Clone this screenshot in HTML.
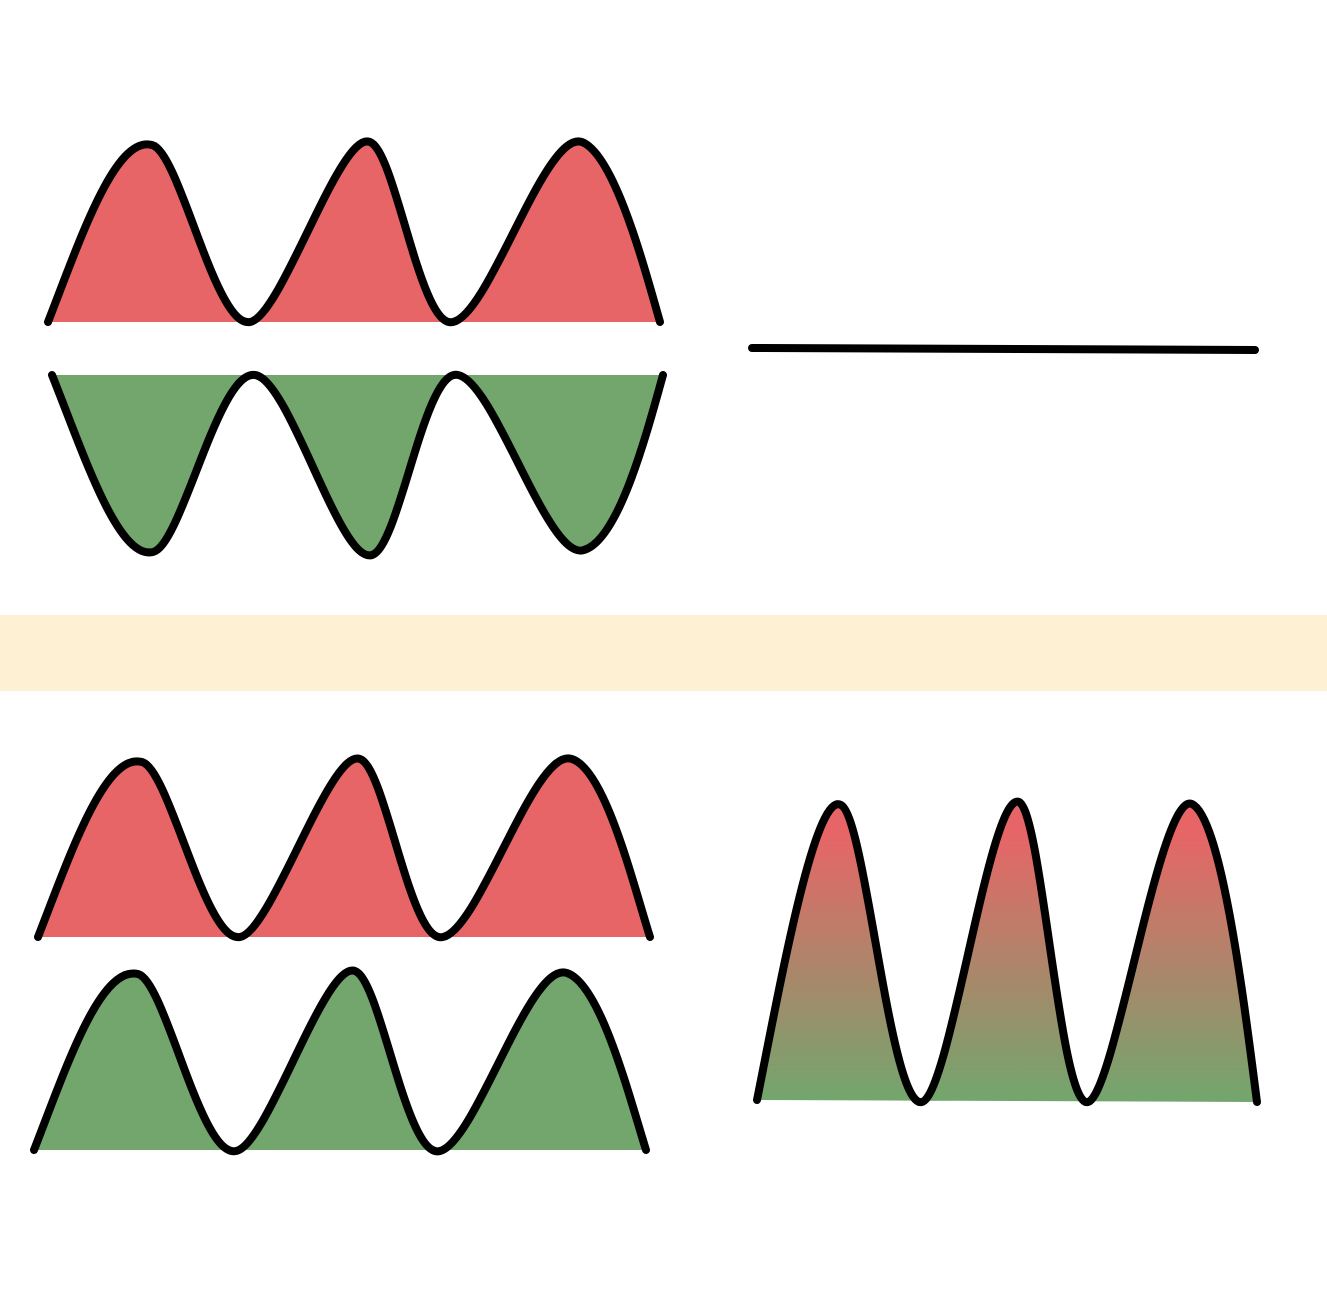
<!DOCTYPE html>
<html><head><meta charset="utf-8"><style>html,body{margin:0;padding:0;background:#fff}svg{display:block}</style></head>
<body>
<svg width="1327" height="1315" viewBox="0 0 1327 1315" xmlns="http://www.w3.org/2000/svg">
<defs>
<linearGradient id="g" x1="0" y1="0" x2="0" y2="1" gradientUnits="objectBoundingBox">
<stop offset="0.1" stop-color="#E86567"/>
<stop offset="1" stop-color="#72A66D"/>
</linearGradient>
</defs>
<rect x="0" y="615" width="1327" height="76" fill="#FEF1D3"/>
<g stroke="#000" stroke-width="8" stroke-linecap="round" fill="none">
<!-- top red -->
<path d="M48,322 C80,240 115,135 152,145 C180,152 215,328 250,322 C282,316 340,130 370,142 C396,152 420,330 453,322 C490,314 545,130 582,142 C615,155 645,270 660,322 Z" fill="#E86567" stroke="none"/>
<path d="M48,322 C80,240 115,135 152,145 C180,152 215,328 250,322 C282,316 340,130 370,142 C396,152 420,330 453,322 C490,314 545,130 582,142 C615,155 645,270 660,322"/>
<!-- top green -->
<path d="M52,375 C84,455 118,560 153,552 C182,545 218,370 255,375 C290,380 340,565 372,555 C400,546 424,368 458,375 C495,382 548,562 584,550 C618,540 645,440 663,375 Z" fill="#72A66D" stroke="none"/>
<path d="M52,375 C84,455 118,560 153,552 C182,545 218,370 255,375 C290,380 340,565 372,555 C400,546 424,368 458,375 C495,382 548,562 584,550 C618,540 645,440 663,375"/>
<line x1="752" y1="348" x2="1255" y2="350"/>
<!-- bottom red -->
<path d="M38,937 C70,855 105,752 142,762 C170,770 205,943 240,937 C272,931 330,748 360,759 C386,768 410,945 443,937 C480,929 535,746 572,759 C605,770 632,880 650,937 Z" fill="#E86567" stroke="none"/>
<path d="M38,937 C70,855 105,752 142,762 C170,770 205,943 240,937 C272,931 330,748 360,759 C386,768 410,945 443,937 C480,929 535,746 572,759 C605,770 632,880 650,937"/>
<!-- bottom green -->
<path d="M34,1150 C66,1068 100,965 138,974 C166,982 200,1158 236,1151 C268,1145 325,960 355,971 C381,980 406,1160 440,1151 C476,1142 530,960 567,973 C600,984 628,1092 646,1150 Z" fill="#72A66D" stroke="none"/>
<path d="M34,1150 C66,1068 100,965 138,974 C166,982 200,1158 236,1151 C268,1145 325,960 355,971 C381,980 406,1160 440,1151 C476,1142 530,960 567,973 C600,984 628,1092 646,1150"/>
<!-- right gradient -->
<path d="M757,1100 C780,985 815,790 841,805 C866,818 890,1110 922,1102 C950,1095 990,790 1019,802 C1042,812 1060,1110 1088,1102 C1115,1095 1160,790 1192,804 C1222,818 1245,1010 1257,1102 Z" fill="url(#g)" stroke="none"/>
<path d="M757,1100 C780,985 815,790 841,805 C866,818 890,1110 922,1102 C950,1095 990,790 1019,802 C1042,812 1060,1110 1088,1102 C1115,1095 1160,790 1192,804 C1222,818 1245,1010 1257,1102"/>
</g>
</svg>
</body></html>
